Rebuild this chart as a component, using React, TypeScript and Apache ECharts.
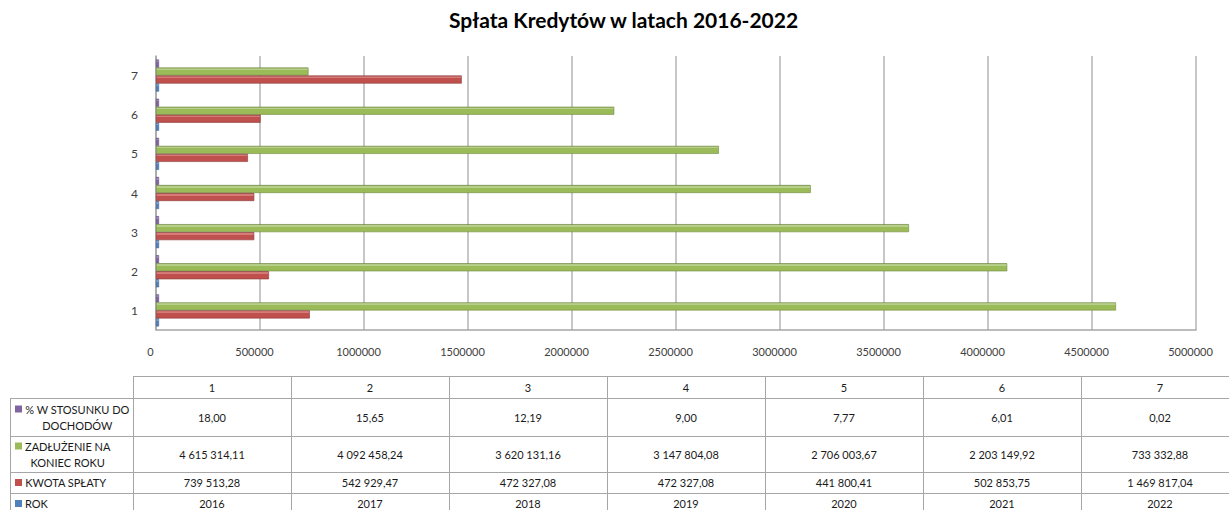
import React, { useEffect, useRef } from "react";
import * as echarts from "echarts";

const categories = ["1", "2", "3", "4", "5", "6", "7"];
const rok = [2016, 2017, 2018, 2019, 2020, 2021, 2022];
const kwotaSplaty = [739513.28, 542929.47, 472327.08, 472327.08, 441800.41, 502853.75, 1469817.04];
const zadluzenie = [4615314.11, 4092458.24, 3620131.16, 3147804.08, 2706003.67, 2203149.92, 733332.88];
const procent = [18.0, 15.65, 12.19, 9.0, 7.77, 6.01, 0.02];
const xTicks = { min: 0, max: 5000000, interval: 500000 };

const TITLE = "Spłata Kredytów w latach 2016-2022";
const NAMES = {
  rok: "ROK",
  kwota: "KWOTA SPŁATY",
  zad: "ZADŁUŻENIE NA KONIEC ROKU",
  proc: "% W STOSUNKU DO DOCHODÓW",
};
const COLORS = {
  rok: "#4F81BD",
  kwota: "#C0504D",
  zad: "#9BBB59",
  proc: "#8064A2",
};

const FONT = "Lato, 'Open Sans', sans-serif";

function fmtPl(v: number): string {
  const [i, d] = v.toFixed(2).split(".");
  const g = i.replace(/\B(?=(\d{3})+(?!\d))/g, " ");
  return g + "," + d;
}

function grad(light: string, base: string, dark: string) {
  return new echarts.graphic.LinearGradient(0, 0, 0, 1, [
    { offset: 0, color: dark },
    { offset: 0.1, color: light },
    { offset: 0.3, color: light },
    { offset: 0.31, color: base },
    { offset: 1, color: base },
  ]);
}

export default function App() {
  const ref = useRef<HTMLDivElement>(null);

  useEffect(() => {
    if (!ref.current) return;
    const chart = echarts.init(ref.current, null, { renderer: "svg" });

    const cv = document.createElement("canvas");
    const ctx = cv.getContext("2d")!;
    ctx.font = "11px Lato";
    const mw = (s: string) => ctx.measureText(s).width;

    const tableRows = [
      { lines: ["% W STOSUNKU DO", "DOCHODÓW"], color: COLORS.proc, values: procent.map(fmtPl) },
      { lines: ["ZADŁUŻENIE NA", "KONIEC ROKU"], color: COLORS.zad, values: zadluzenie.map(fmtPl) },
      { lines: ["KWOTA SPŁATY"], color: COLORS.kwota, values: kwotaSplaty.map(fmtPl) },
      { lines: ["ROK"], color: COLORS.rok, values: rok.map((v) => String(v)) },
    ];

    const tLeft = 10;
    const legendRight = 133;
    const colW = 158;
    const rowLines = [376, 398, 436, 472, 493, 514];
    const tRight = legendRight + colW * categories.length;
    const lineColor = "#A6A6A6";
    const textColor = "#1a1a1a";
    const lineH = 16;

    const g: any[] = [];
    rowLines.forEach((y, i) => {
      g.push({
        type: "line",
        shape: { x1: i === 0 ? legendRight : tLeft, y1: y + 0.5, x2: tRight, y2: y + 0.5 },
        style: { stroke: lineColor, lineWidth: 1 },
        silent: true,
      });
    });
    g.push({
      type: "line",
      shape: { x1: tLeft + 0.5, y1: rowLines[1], x2: tLeft + 0.5, y2: rowLines[5] },
      style: { stroke: lineColor, lineWidth: 1 },
    });
    for (let i = 0; i <= categories.length; i++) {
      const x = legendRight + colW * i + 0.5;
      g.push({
        type: "line",
        shape: { x1: x, y1: rowLines[0], x2: x, y2: rowLines[5] },
        style: { stroke: lineColor, lineWidth: 1 },
      });
    }
    categories.forEach((c, i) => {
      g.push({
        type: "text",
        x: legendRight + colW * i + colW / 2,
        y: (rowLines[0] + rowLines[1]) / 2,
        style: {
          text: c,
          fill: textColor,
          fontSize: 11,
          fontFamily: FONT,
          align: "center",
          verticalAlign: "middle",
        },
      });
    });
    tableRows.forEach((r, ri) => {
      const top = rowLines[ri + 1];
      const bot = rowLines[ri + 2];
      const cy = (top + bot) / 2;
      const n = r.lines.length;
      const firstY = cy - ((n - 1) * lineH) / 2;
      g.push({
        type: "rect",
        shape: { x: 15, y: firstY - 3.5, width: 7, height: 7 },
        style: { fill: r.color },
      });
      const maxW = Math.max(...r.lines.map(mw));
      g.push({
        type: "text",
        x: 25 + maxW / 2,
        y: cy,
        style: {
          text: r.lines.join("\n"),
          fill: textColor,
          fontSize: 11,
          fontFamily: FONT,
          align: "center",
          verticalAlign: "middle",
          lineHeight: lineH,
        },
      });
      r.values.forEach((v, ci) => {
        g.push({
          type: "text",
          x: legendRight + colW * ci + colW / 2,
          y: cy,
          style: {
            text: v,
            fill: textColor,
            fontSize: 11,
            fontFamily: FONT,
            align: "center",
            verticalAlign: "middle",
          },
        });
      });
    });

    const barW = 8;
    const common = {
      type: "bar" as const,
      barWidth: barW,
      barGap: "0%",
    };

    chart.setOption({
      animation: false,
      backgroundColor: "#ffffff",
      title: {
        text: TITLE,
        left: 449,
        top: 9,
        padding: 0,
        textStyle: { fontFamily: FONT, fontSize: 21, fontWeight: "bold", color: "#000" },
      },
      grid: { left: 156, right: 33, top: 56, bottom: 180 },
      xAxis: {
        type: "value",
        min: xTicks.min,
        max: xTicks.max,
        interval: xTicks.interval,
        axisLine: { show: true, lineStyle: { color: "#A6A6A6", width: 1.5 } },
        axisTick: { show: false },
        splitLine: { show: true, lineStyle: { color: "#B5B5B5", width: 1.5 } },
        axisLabel: {
          color: "#404040",
          fontFamily: FONT,
          fontSize: 11,
          margin: 16,
          padding: [0, 11, 0, 0],
          formatter: (v: number) => String(v),
        },
      },
      yAxis: {
        type: "category",
        data: categories,
        axisLine: { show: true, lineStyle: { color: "#A6A6A6", width: 1.5 } },
        axisTick: { show: false },
        splitLine: { show: false },
        axisLabel: { color: "#404040", fontFamily: FONT, fontSize: 12, margin: 18 },
      },
      series: [
        {
          ...common,
          name: NAMES.proc,
          data: procent,
          barMinHeight: 3,
          itemStyle: { color: grad("#9F89BD", COLORS.proc, "#5C4776"), borderColor: "#5C4776", borderWidth: 0.5 },
        },
        {
          ...common,
          name: NAMES.zad,
          data: zadluzenie,
          itemStyle: { color: grad("#B7D089", COLORS.zad, "#71893F"), borderColor: "#71893F", borderWidth: 0.6 },
        },
        {
          ...common,
          name: NAMES.kwota,
          data: kwotaSplaty,
          itemStyle: { color: grad("#D77B78", COLORS.kwota, "#8C3836"), borderColor: "#8C3836", borderWidth: 0.6 },
        },
        {
          ...common,
          name: NAMES.rok,
          data: rok,
          barMinHeight: 3,
          itemStyle: { color: grad("#7FA3D3", COLORS.rok, "#385D8A"), borderColor: "#385D8A", borderWidth: 0.5 },
        },
      ],
      graphic: g,
    });

    return () => chart.dispose();
  }, []);

  return (
    <div style={{ position: "fixed", left: 0, top: 0, width: 1229, height: 510, background: "#fff" }}>
      <div ref={ref} style={{ width: 1229, height: 510 }} />
    </div>
  );
}
